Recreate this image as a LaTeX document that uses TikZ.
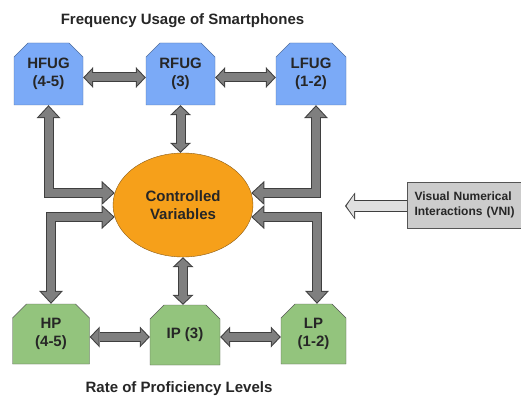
\documentclass[tikz,border=0pt]{standalone}
\usepackage{fontspec}
\setmainfont{Liberation Sans}
\usetikzlibrary{arrows.meta}
\usetikzlibrary{positioning}
\usetikzlibrary{shapes.misc}
\usetikzlibrary{shapes.geometric}
\definecolor{fugblue}{HTML}{7BAAF7}
\definecolor{fugline}{HTML}{4F6E9E}
\definecolor{profgreen}{HTML}{93C47D}
\definecolor{profline}{HTML}{555555}
\definecolor{cvorange}{HTML}{F6A01A}
\definecolor{cvline}{HTML}{8A5A14}
\definecolor{vnigray}{HTML}{CCCCCC}
\definecolor{linkfill}{HTML}{7F7F7F}
\definecolor{linkline}{HTML}{3F3F3F}
\tikzset{
  txt/.style = {font = \bfseries\fontsize{15}{18.5}\selectfont, text = black!85},
  fug/.style = {txt, draw = fugline, fill = fugblue, chamfered rectangle,
    chamfered rectangle corners = {north west, north east},
    chamfered rectangle xsep = 6pt, chamfered rectangle ysep = 8pt,
    align = center, minimum width = 69pt, minimum height = 62pt, inner sep = 0},
  prof/.style = {fug, draw = profline, fill = profgreen, minimum height = 60pt},
  link outer/.style = {draw = linkline, line width = 10pt, line join = miter},
  link inner/.style = {draw = linkfill, line width = 8pt, line join = miter,
    shorten > = 1.5pt, shorten < = 1.5pt},
  small outer/.style = {link outer, arrows = {Triangle[width=21pt,length=10pt,line width=0pt]-Triangle[width=21pt,length=10pt,line width=0pt]}},
  small inner/.style = {link inner, arrows = {Triangle[width=16pt,length=7.5pt,line width=0pt]-Triangle[width=16pt,length=7.5pt,line width=0pt]}},
  big outer/.style = {link outer, arrows = {Triangle[width=24pt,length=13pt,line width=0pt]-Triangle[width=24pt,length=13pt,line width=0pt]}},
  big inner/.style = {link inner, arrows = {Triangle[width=19.4pt,length=10.5pt,line width=0pt]-Triangle[width=19.4pt,length=10.5pt,line width=0pt]}},
  vni outer/.style = {draw = linkline, line width = 12pt, arrows = {-Triangle[width=27pt,length=10pt,line width=0pt]}},
  vni inner/.style = {draw = black!12, line width = 10pt, shorten > = 1.5pt,
    arrows = {-Triangle[width=22pt,length=7.5pt,line width=0pt]}}
}
\begin{document}
\begin{tikzpicture}[x = 1pt, y = -1pt]
  \useasboundingbox (0, 0) rectangle (521, 398);
  % titles
  \node [txt] (toptitle) at (182.5, 21) {Frequency Usage of Smartphones};
  \node [txt] (bottitle) at (179, 389) {Rate of Proficiency Levels};
  % frequency usage groups
  \node [fug] (hfug) at (48.5, 74) {HFUG\\(4-5)};
  \node [fug] (rfug) at (180.5, 74) {RFUG\\(3)};
  \node [fug, minimum width = 70pt] (lfug) at (311, 74) {LFUG\\(1-2)};
  % proficiency levels
  \node [prof, minimum width = 77pt] (hp) at (51, 334) {HP\\(4-5)};
  \node [prof, minimum width = 70pt] (ip) at (185, 335) {IP (3)};
  \node [prof, minimum width = 65pt] (lp) at (313.5, 334) {LP\\(1-2)};
  % centre
  \node [txt, ellipse, draw = cvline, fill = cvorange, minimum width = 140pt,
    minimum height = 104pt, inner sep = 0, align = center] (cv) at (183, 205)
    {Controlled\\Variables};
  \node [txt, font = \bfseries\fontsize{12}{14.5}\selectfont, draw = profline,
    fill = vnigray, minimum width = 113pt, minimum height = 46pt, align = left,
    text width = 104pt, inner xsep = 7pt] (vni) at (466.5, 205)
    {Visual Numerical\\Interactions (VNI)};
  \coordinate (vnitip) at (345, 206);
  % connectors
  \foreach \pass in {outer, inner} {
    \draw [small \pass] ([yshift=-3.5pt]hfug.east) -- ([yshift=-3.5pt]rfug.west);
    \draw [small \pass] ([yshift=-3.5pt]rfug.east) -- ([yshift=-3.5pt]lfug.west);
    \draw [small \pass] (rfug.south) -- (rfug.south |- cv.north);
    \draw [small \pass] (cv.south) -- (cv.south |- ip.north);
    \draw [small \pass] ([yshift=-3pt]hp.east) -- ([yshift=-3pt]hp.east -| ip.west);
    \draw [small \pass] ([yshift=-3pt]lp.west -| ip.east) -- ([yshift=-3pt]lp.west);
    \draw [big \pass] (hfug.south) |- (cv.170);
    \draw [big \pass] (cv.190) -| (hp.north);
    \draw [big \pass] ([xshift=5pt]lfug.south) |- (cv.10);
    \draw [big \pass] (cv.350) -| ([xshift=3.5pt]lp.north);
    \draw [vni \pass] (vni.west |- vnitip) -- (vnitip);
  }
\end{tikzpicture}
\end{document}
